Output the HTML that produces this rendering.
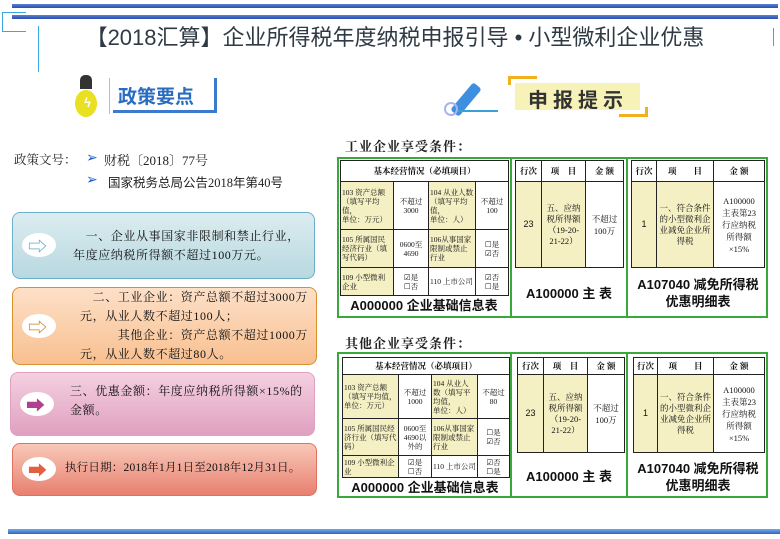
<!DOCTYPE html>
<html><head><meta charset="utf-8"><style>
*{margin:0;padding:0;box-sizing:border-box}
body{width:780px;height:539px;background:#fff;position:relative;overflow:hidden;font-family:"Liberation Sans","Noto Sans CJK SC",sans-serif}
.a{position:absolute}
.serif{font-family:"Liberation Serif","Noto Serif CJK SC",serif}
table{border-collapse:collapse;table-layout:fixed;position:absolute;background:#fff}
td{border:1.5px solid #222;font-size:7.5px;line-height:9px;color:#111;padding:0 1px;vertical-align:middle;font-family:"Liberation Serif","Noto Serif CJK SC",serif}
td.y{background:#f4f0c4}
td.c{text-align:center}
td.h{font-weight:bold;text-align:center;font-size:8.5px}
.cap{position:absolute;font-weight:bold;font-size:13px;text-align:center;color:#111;line-height:17px}
.box{position:absolute;border-radius:8px;border:1.5px solid}
.ell{position:absolute;width:34px;height:24px;border-radius:50%;background:#fff}
.txt{position:absolute;font-size:12px;line-height:19px;color:#111;letter-spacing:0.6px;white-space:nowrap;font-family:"Liberation Serif","Noto Serif CJK SC",serif}
.grp{position:absolute;border:2px solid #3aa83a}
</style></head><body>
<div class="a" style="left:12px;top:4px;width:766px;height:4px;background:linear-gradient(#5b7fd0,#2a4fb0)"></div>
<div class="a" style="left:12px;top:15px;width:766px;height:4px;background:linear-gradient(#5b7fd0,#2a4fb0)"></div>
<div class="a" style="left:2px;top:12px;width:24px;height:20px;border:1px solid #3aa8e0;border-right:none"></div>
<div class="a" style="left:38px;top:26px;width:1px;height:46px;background:#3aa8e0"></div>
<div class="a" style="left:773px;top:28px;width:1px;height:18px;background:#3aa8e0"></div>
<div class="a" style="left:0;top:20px;width:790px;text-align:center;font-size:22px;color:#2f3a45">【2018汇算】企业所得税年度纳税申报引导 • 小型微利企业优惠</div>
<div class="a" style="left:75px;top:90px;width:22px;height:27px;border-radius:50%;background:#e8e020"></div>
<div class="a" style="left:80px;top:75px;width:12px;height:14px;border-radius:5px 5px 0 0;background:#333"></div>
<div class="a" style="left:84px;top:95px;color:#fff;font-size:13px;font-weight:bold">ϟ</div>
<div class="a" style="left:109px;top:78px;width:1px;height:36px;background:#bbb"></div>
<div class="a" style="left:113px;top:110px;width:104px;height:3px;background:#3a7ad0"></div>
<div class="a" style="left:214px;top:78px;width:3px;height:35px;background:#3a7ad0"></div>
<div class="a" style="left:118px;top:82px;font-size:19px;font-weight:bold;color:#2a6cc0">政策要点</div>
<div class="a" style="left:448px;top:94px;width:36px;height:11px;background:#3f8fe0;transform:rotate(-50deg);border-radius:3px"></div>
<div class="a" style="left:444px;top:102px;width:14px;height:14px;border-radius:50%;border:2px solid #aab4e8"></div>
<div class="a" style="left:458px;top:110px;width:40px;height:2px;background:#3aa0d8"></div>
<div class="a" style="left:508px;top:76px;width:29px;height:9px;border-top:3px solid #f0b020;border-left:3px solid #f0b020"></div>
<div class="a" style="left:619px;top:107px;width:29px;height:10px;border-bottom:3px solid #f0b020;border-right:3px solid #f0b020"></div>
<div class="a" style="left:515px;top:83px;width:125px;height:27px;background:#f6f2b8"></div>
<div class="a" style="left:528px;top:84px;font-size:20px;font-weight:bold;color:#333;letter-spacing:5px">申报提示</div>
<div class="a serif" style="left:14px;top:150px;font-size:12.5px;color:#222">政策文号：</div>
<div class="a" style="left:86px;top:149px;color:#1a5cc0;font-size:14px">➢</div>
<div class="a serif" style="left:104px;top:150px;font-size:13px;color:#222">财税〔2018〕77号</div>
<div class="a" style="left:86px;top:171px;color:#1a5cc0;font-size:14px">➢</div>
<div class="a" style="left:108px;top:172px;font-size:12.5px;color:#222;font-family:'Liberation Serif','Noto Sans CJK SC',serif">国家税务总局公告2018年第40号</div>
<div class="box" style="left:12px;top:212px;width:303px;height:67px;border-color:#6ab0c8;background:linear-gradient(#dcedf0,#b8d8e0)"></div>
<div class="ell" style="left:22px;top:233px"></div><div class="a" style="left:28px;top:232px;font-size:19px;color:#60a8c8">⇨</div>
<div class="txt" style="left:73px;top:227px">　一、企业从事国家非限制和禁止行业，<br>年度应纳税所得额不超过100万元。</div>
<div class="box" style="left:12px;top:287px;width:305px;height:78px;border-color:#d89030;background:linear-gradient(#fde0c8,#f8c090)"></div>
<div class="ell" style="left:22px;top:314px"></div><div class="a" style="left:28px;top:313px;font-size:19px;color:#d08020">⇨</div>
<div class="txt" style="left:80px;top:288px">　二、工业企业：资产总额不超过3000万<br>元，从业人数不超过100人；<br>　　　其他企业：资产总额不超过1000万<br>元，从业人数不超过80人。</div>
<div class="box" style="left:10px;top:372px;width:305px;height:64px;border-color:#e0a0c0;background:linear-gradient(#f4d0e0,#e0a0c0)"></div>
<div class="ell" style="left:20px;top:392px"></div><div class="a" style="left:26px;top:391px;font-size:19px;color:#b04090">➡</div>
<div class="txt" style="left:70px;top:382px">三、优惠金额：年度应纳税所得额×15%的<br>金额。</div>
<div class="box" style="left:12px;top:443px;width:305px;height:53px;border-color:#e07060;background:linear-gradient(#f8c8b8,#e88070)"></div>
<div class="ell" style="left:22px;top:457px"></div><div class="a" style="left:28px;top:456px;font-size:19px;color:#e06040">➡</div>
<div class="txt" style="left:65px;top:459px;font-size:11.5px;letter-spacing:0.2px">执行日期：2018年1月1日至2018年12月31日。</div>

<div class="a serif" style="left:345px;top:136px;font-size:13px;font-weight:bold;color:#222;letter-spacing:1px">工业企业享受条件：</div>
<div class="grp" style="left:337px;top:157px;width:175px;height:161px"></div>
<div class="grp" style="left:510px;top:157px;width:118px;height:161px"></div>
<div class="grp" style="left:626px;top:157px;width:142px;height:161px"></div>
<table style="left:340px;top:160px;width:168px;height:136px">
<colgroup><col style="width:53px"><col style="width:35px"><col style="width:47px"><col style="width:33px"></colgroup>
<tr style="height:21px"><td colspan="4" class="h">基本经营情况（必填项目）</td></tr>
<tr style="height:48px"><td class="y">103 资产总额（填写平均值，<br>单位：万元）</td><td class="c">不超过<br>3000</td><td class="y">104 从业人数（填写平均值，<br>单位：人）</td><td class="c">不超过<br>100</td></tr>
<tr style="height:38px"><td class="y">105 所属国民经济行业（填写代码）</td><td class="c">0600至<br>4690</td><td class="y">106从事国家限制或禁止行业</td><td class="c">☐是<br>☑否</td></tr>
<tr style="height:28px"><td class="y">109 小型微利企业</td><td class="c">☑是<br>☐否</td><td>110 上市公司</td><td class="c">☑否<br>☐是</td></tr>
</table>
<div class="cap" style="left:340px;top:297px;width:168px">A000000 企业基础信息表</div>
<table style="left:515px;top:160px;width:108px;height:108px">
<colgroup><col style="width:26px"><col style="width:44px"><col style="width:38px"></colgroup>
<tr style="height:21px"><td class="h">行次</td><td class="h">项　目</td><td class="h">金 额</td></tr>
<tr><td class="y c" style="font-family:'Liberation Sans';font-size:9px">23</td><td class="y c" style="font-size:8.5px;line-height:11px">五、应纳税所得额（19-20-21-22）</td><td class="c" style="font-size:8.5px;line-height:12px">不超过<br>100万</td></tr>
</table>
<div class="cap" style="left:512px;top:285px;width:114px">A100000 主 表</div>
<table style="left:631px;top:160px;width:133px;height:108px">
<colgroup><col style="width:25px"><col style="width:57px"><col style="width:51px"></colgroup>
<tr style="height:21px"><td class="h">行次</td><td class="h">项　　目</td><td class="h">金 额</td></tr>
<tr><td class="y c" style="font-family:'Liberation Sans';font-size:9px">1</td><td class="y c" style="font-size:8.5px;line-height:11px">一、符合条件的小型微利企业减免企业所得税</td><td class="c" style="font-size:8.5px;line-height:12px">A100000<br>主表第23<br>行应纳税<br>所得额<br>×15%</td></tr>
</table>
<div class="cap" style="left:628px;top:276px;width:140px">A107040 减免所得税<br>优惠明细表</div>

<div class="a serif" style="left:345px;top:333px;font-size:13px;font-weight:bold;color:#222;letter-spacing:1px">其他企业享受条件：</div>
<div class="grp" style="left:337px;top:352px;width:175px;height:146px"></div>
<div class="grp" style="left:510px;top:352px;width:118px;height:146px"></div>
<div class="grp" style="left:626px;top:352px;width:142px;height:146px"></div>
<table style="left:342px;top:357px;width:167px;height:120px">
<colgroup><col style="width:56px"><col style="width:33px"><col style="width:46px"><col style="width:32px"></colgroup>
<tr style="height:17px"><td colspan="4" class="h">基本经营情况（必填项目）</td></tr>
<tr style="height:44px"><td class="y">103 资产总额（填写平均值，<br>单位：万元）</td><td class="c">不超过<br>1000</td><td class="y">104 从业人数（填写平均值，<br>单位：人）</td><td class="c">不超过<br>80</td></tr>
<tr style="height:37px"><td class="y">105 所属国民经济行业（填写代码）</td><td class="c">0600至<br>4690以<br>外的</td><td class="y">106从事国家限制或禁止行业</td><td class="c">☐是<br>☑否</td></tr>
<tr style="height:22px"><td class="y">109 小型微利企业</td><td class="c">☑是<br>☐否</td><td>110 上市公司</td><td class="c">☑否<br>☐是</td></tr>
</table>
<div class="cap" style="left:340px;top:479px;width:170px">A000000 企业基础信息表</div>
<table style="left:517px;top:357px;width:107px;height:96px">
<colgroup><col style="width:26px"><col style="width:44px"><col style="width:37px"></colgroup>
<tr style="height:17px"><td class="h">行次</td><td class="h">项　目</td><td class="h">金 额</td></tr>
<tr><td class="y c" style="font-family:'Liberation Sans';font-size:9px">23</td><td class="y c" style="font-size:8.5px;line-height:11px">五、应纳税所得额（19-20-21-22）</td><td class="c" style="font-size:8.5px;line-height:12px">不超过<br>100万</td></tr>
</table>
<div class="cap" style="left:512px;top:468px;width:114px">A100000 主 表</div>
<table style="left:633px;top:357px;width:131px;height:96px">
<colgroup><col style="width:24px"><col style="width:56px"><col style="width:51px"></colgroup>
<tr style="height:17px"><td class="h">行次</td><td class="h">项　　目</td><td class="h">金 额</td></tr>
<tr><td class="y c" style="font-family:'Liberation Sans';font-size:9px">1</td><td class="y c" style="font-size:8.5px;line-height:11px">一、符合条件的小型微利企业减免企业所得税</td><td class="c" style="font-size:8.5px;line-height:12px">A100000<br>主表第23<br>行应纳税<br>所得额<br>×15%</td></tr>
</table>
<div class="cap" style="left:628px;top:460px;width:140px">A107040 减免所得税<br>优惠明细表</div>

<div class="a" style="left:8px;top:529px;width:772px;height:5px;background:linear-gradient(#6ab0e8,#3a60c0)"></div>
</body></html>
